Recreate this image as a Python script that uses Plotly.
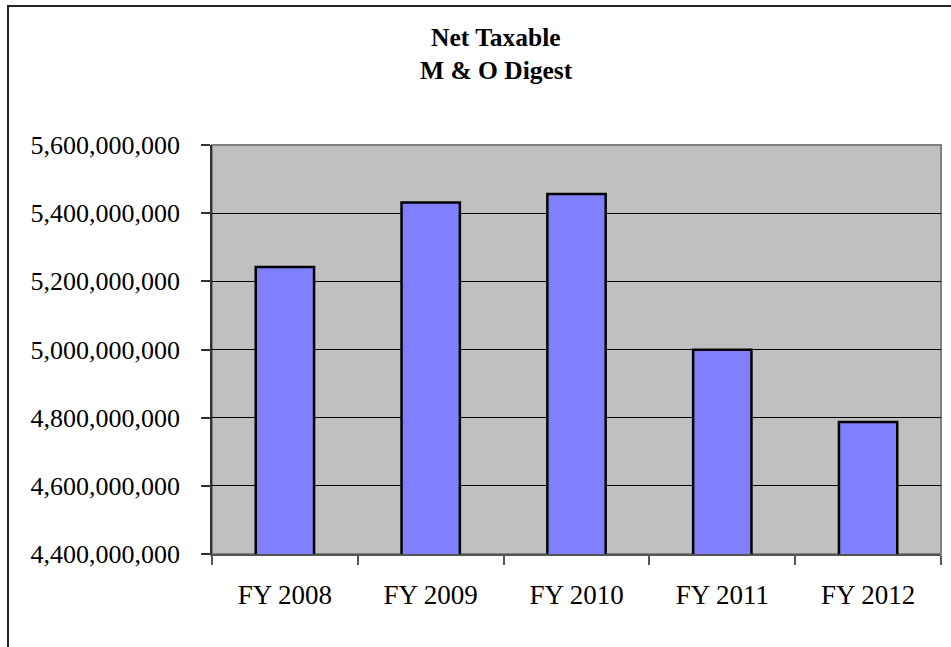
import plotly.graph_objects as go

categories = ["FY 2008", "FY 2009", "FY 2010", "FY 2011", "FY 2012"]
values = [5242000000, 5431000000, 5456000000, 4999000000, 4787000000]
tick_vals = [4400000000, 4600000000, 4800000000, 5000000000, 5200000000, 5400000000, 5600000000]
tick_text = ["4,400,000,000", "4,600,000,000", "4,800,000,000", "5,000,000,000",
             "5,200,000,000", "5,400,000,000", "5,600,000,000"]
title_lines = ["Net Taxable", "M & O Digest"]

W, H = 951, 647
L, R, T, B = 212, 10, 145, 93
pw = W - L - R
ph = H - T - B
FONT = "Liberation Serif, Times New Roman, serif"

fig = go.Figure()
fig.add_trace(go.Bar(
    x=categories, y=values,
    marker=dict(color="#8080FF", line=dict(color="black", width=2.5)),
    width=0.4,
))

fig.update_layout(
    width=W, height=H,
    margin=dict(l=L, r=R, t=T, b=B, pad=0),
    paper_bgcolor="white",
    plot_bgcolor="#C0C0C0",
    showlegend=False,
    font=dict(family=FONT, color="black"),
    bargap=0.6,
)

# title lines as annotations
for i, (line, ypx) in enumerate(zip(title_lines, [38, 71])):
    fig.add_annotation(text="<b>%s</b>" % line, xref="paper", yref="paper",
                       x=(496 - L) / pw, y=(H - B - ypx) / ph,
                       xanchor="center", yanchor="middle", showarrow=False,
                       borderpad=0,
                       font=dict(size=25.5, family=FONT, color="black"))

fig.update_xaxes(
    showgrid=False, tickson="boundaries", ticks="outside", ticklen=9,
    tickcolor="#555", tickwidth=1.5,
    showline=True, linecolor="#555", linewidth=1.5,
    tickfont=dict(size=27), ticklabelstandoff=16,
    mirror=False,
)
fig.update_yaxes(
    range=[4400000000, 5600000000], tickvals=tick_vals, ticktext=tick_text,
    showgrid=True, gridcolor="black", gridwidth=1,
    ticks="outside", ticklen=9, tickcolor="#333", tickwidth=1.5,
    showline=True, linecolor="#333", linewidth=1.5,
    tickfont=dict(size=26), ticklabelstandoff=16,
    zeroline=False,
)

# gray plot-area border (top/right)
fig.add_shape(type="rect", xref="paper", yref="paper", x0=0, y0=0, x1=1, y1=1,
              line=dict(color="#808080", width=2), layer="below")
# outer chart border
fig.add_shape(type="rect", xref="paper", yref="paper",
              x0=(8 - L) / pw, y0=-0.4, x1=1.2, y1=(H - B - 6) / ph,
              line=dict(color="#222", width=2), layer="below")

fig.write_html("out.html")
